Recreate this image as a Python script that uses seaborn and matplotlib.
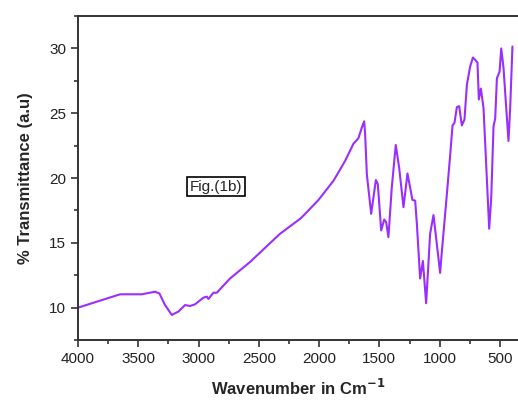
import pandas as pd
import numpy as np
import matplotlib
matplotlib.use('Agg')
import matplotlib.pyplot as plt
import seaborn as sns
from matplotlib.ticker import MultipleLocator

wavenumber = [4000, 3651, 3471, 3361, 3325, 3278, 3222, 3167, 3112, 3070, 3029,
              2960, 2932, 2918, 2877, 2849, 2739, 2572, 2490, 2324, 2157, 2130,
              2006, 1881, 1840, 1784, 1715, 1674, 1646, 1626, 1618, 1604, 1568,
              1529, 1513, 1485, 1460, 1444, 1425, 1397, 1364, 1336, 1300, 1267,
              1245, 1226, 1203, 1189, 1162, 1139, 1112, 1079, 1051, 996, 981,
              940, 912, 893, 877, 857, 838, 816, 794, 774, 747, 724, 705, 686,
              675, 658, 636, 614, 589, 572, 553, 539, 525, 503, 489, 470, 429,
              415, 396]
transmittance = [10.0, 11.03, 11.03, 11.23, 11.1, 10.2, 9.44, 9.7, 10.2, 10.13, 10.26,
                 10.77, 10.85, 10.67, 11.15, 11.15, 12.25, 13.53, 14.25, 15.7, 16.86, 17.1,
                 18.3, 19.79, 20.43, 21.33, 22.65, 23.07, 23.88, 24.38, 23.37, 20.3, 17.24,
                 19.85, 19.54, 15.96, 16.8, 16.6, 15.44, 19.28, 22.55, 20.81, 17.75, 20.35,
                 19.28, 18.31, 18.26, 16.47, 12.25, 13.6, 10.34, 15.7, 17.14, 12.68, 14.4,
                 18.77, 21.84, 24.06, 24.26, 25.47, 25.55, 24.06, 24.52, 27.2, 28.6, 29.3, 29.12, 28.9,
                 26.06, 26.9, 25.4, 21.07, 16.09, 18.5, 24.0, 24.6, 27.7, 28.2, 30.0, 28.48, 22.86,
                 25.4, 30.15]

x_ticks = [4000, 3500, 3000, 2500, 2000, 1500, 1000, 500]
y_ticks = [10, 15, 20, 25, 30]

df = pd.DataFrame({'wavenumber': wavenumber, 'T': transmittance})

sns.set_style('ticks')
plt.rcParams['font.family'] = ['Liberation Sans', 'DejaVu Sans']

fig = plt.figure(figsize=(5.18, 4.01), dpi=100)
ax = fig.add_axes([0.1506, 0.152, 0.8494, 0.808])

sns.lineplot(data=df, x='wavenumber', y='T', ax=ax, color='#9a2eff',
             linewidth=1.5, sort=False, estimator=None)

ax.set_xlim(4000, 350)
ax.set_ylim(7.5, 32.5)
ax.set_xticks(x_ticks)
ax.set_yticks(y_ticks)
ax.xaxis.set_minor_locator(MultipleLocator(250))
ax.yaxis.set_minor_locator(MultipleLocator(2.5))
ax.tick_params(which='major', length=5, width=1.2, labelsize=11, colors='#333333',
               labelcolor='#222222')
ax.tick_params(which='minor', length=3, width=1.2, colors='#333333')

for s in ['left', 'bottom', 'top']:
    ax.spines[s].set_linewidth(1.4)
    ax.spines[s].set_color('#333333')
ax.spines['right'].set_visible(False)

ax.set_xlabel('Wavenumber in Cm$^{\\mathbf{-1}}$', fontsize=12, fontweight='bold', labelpad=9)
ax.set_ylabel('% Transmittance (a.u)', fontsize=12, fontweight='bold', labelpad=12)

ax.text(2855, 19.33, 'Fig.(1b)', fontsize=11, ha='center', va='center',
        bbox=dict(boxstyle='square,pad=0.15', facecolor='white', edgecolor='black', linewidth=1.2))

fig.savefig('out.png', dpi=100)
